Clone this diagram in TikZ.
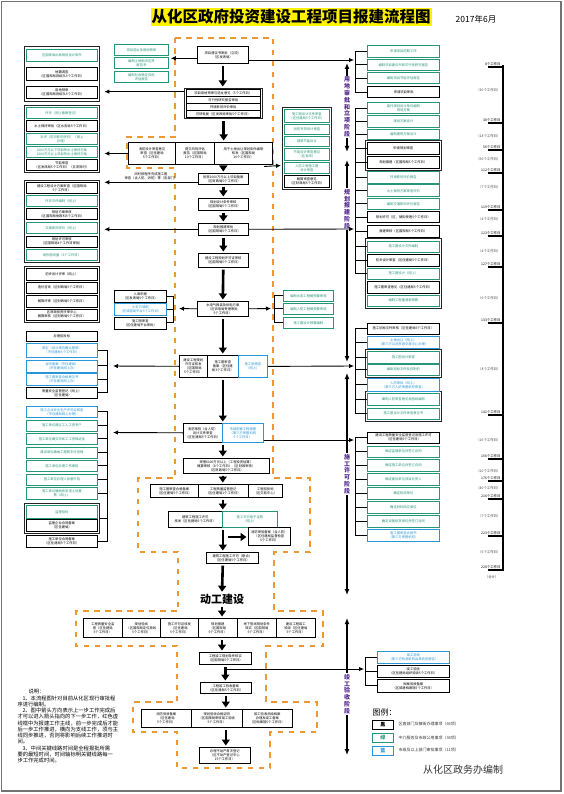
\documentclass[tikz,border=0pt]{standalone}
\usepackage{fontspec}
\setmainfont{Noto Sans CJK SC}
\usepackage{tikz}
\usetikzlibrary{arrows.meta}
\definecolor{grn}{RGB}{38,150,120}
\definecolor{blu}{RGB}{40,150,215}
\definecolor{orng}{RGB}{238,152,48}
\definecolor{purp}{RGB}{80,40,140}
\newcommand\tx{\fontsize{3.3}{4}\selectfont}

\begin{document}
\begin{tikzpicture}[x=1pt,y=-1pt,
  every node/.style={font=\tx,inner sep=0.3pt,align=center},
  kb/.style={draw=black,line width=0.6pt,fill=white,anchor=north west},
  gb/.style={draw=grn,text=grn,line width=0.8pt,fill=white,anchor=north west},
  bb/.style={draw=blu,text=blu,line width=0.8pt,fill=white,anchor=north west},
  wh/.style 2 args={minimum width=#1,minimum height=#2},
  frm/.style={draw=black!85,line width=1.3pt,anchor=north west,inner sep=0pt},
  big/.style={line width=2.6pt,-{Triangle[width=8pt,length=6pt]},shorten <=2pt,shorten >=1.5pt},
  sa/.style={line width=0.9pt,-{Latex[length=5pt,width=4.5pt]}},
  brk/.style={line width=0.9pt},
  odash/.style={draw=orng,line width=2.4pt,dash pattern=on 5.5pt off 5.5pt},
  stg/.style={line width=1.3pt,-{Latex[length=6pt,width=5pt]}},
  stl/.style={text=purp,font=\fontsize{6}{6.8}\selectfont\bfseries,inner sep=1pt},
  tk/.style={line width=1.8pt},
  dl/.style={anchor=south east,font=\fontsize{3.4}{4}\selectfont},
  il/.style={anchor=east,font=\fontsize{3.4}{4}\selectfont,text=black!75}]
\useasboundingbox (0,0) rectangle (563,794);
\draw[black!55,line width=1.6pt] (1.5,1.5) rectangle (561,791);

% title
\node[fill=yellow,font=\fontsize{15.5}{17}\selectfont\bfseries,inner sep=1pt] (ttl) at (291,17) {从化区政府投资建设工程项目报建流程图};
\node[font=\fontsize{8.5}{10}\selectfont] (dat) at (476,19) {2017年6月};

% main line frame
\draw[odash] (175,38) -- (273,38) -- (273,478) -- (310,478) -- (310,552) -- (274,552) -- (274,611) -- (323,611) -- (323,646) -- (266,646) -- (266,702) -- (317,702) -- (317,732) -- (270,732) -- (270,768) -- (177,768) -- (177,732) -- (133,732) -- (133,702) -- (177,702) -- (177,646) -- (76,646) -- (76,611) -- (178,611) -- (178,552) -- (138,552) -- (138,478) -- (175,478) -- (175,168) -- (127,168) -- (127,137) -- (175,137) -- cycle;

% left groups
\node[frm,wh={75}{55}] (f1) at (24,46) {};
\node[gb,wh={71}{12}] (l1a) at (26,49) {区国规局出具规划设计条件};
\node[kb,wh={71}{13}] (l1b) at (26,67) {地籍调查\\（区国规局测绘队5个工作日）};
\node[kb,wh={71}{12}] (l1c) at (26,86) {用地预审\\（区国规局测绘队5个工作日）};

\node[frm,wh={75}{67}] (f2) at (24,105) {};
\node[gb,wh={71}{11}] (l2a) at (26,107) {环评（网上备案登记）};
\node[kb,wh={71}{11}] (l2b) at (26,120) {水土保持审批（区水务局5个工作日）};
\node[gb,wh={71}{11}] (l2c) at (26,133) {洪评（防洪影响评价）（网上\\办理）};
\node[gb,wh={71}{11}] (l2d) at (26,146) {2000万元以下项目的水土保持方案\\2000万元以上项目的水土保持方案};
\node[kb,wh={71}{11}] (l2e) at (26,159) {节能审查\\（区发改局5个工作日）（五项同时）};

\node[frm,wh={75}{82}] (f3) at (24,180) {};
\node[kb,wh={71}{11}] (l3a) at (26,182) {建设工程设计方案审查（区国规局\\5个工作日）};
\node[gb,wh={71}{11}] (l3b) at (26,195) {环评文件编制（网上）};
\node[kb,wh={71}{11}] (l3c) at (26,208.5) {规划方案审核\\（区国规局地政科5个工作日）};
\node[gb,wh={71}{11}] (l3d) at (26,222) {交通影响评价（网上）};
\node[kb,wh={71}{11}] (l3e) at (26,235.5) {规划许可审核\\（区国规局4个工作日审批）};
\node[gb,wh={71}{11}] (l3f) at (26,249) {地形图测量（3个工作日）};

\node[frm,wh={75}{56}] (f4) at (24,266) {};
\node[kb,wh={71}{11.5}] (l4a) at (26,268) {初步设计评审（网上）};
\node[kb,wh={71}{11.5}] (l4b) at (26,281.5) {造价咨询（区财政局5个工作日）};
\node[kb,wh={71}{11.5}] (l4c) at (26,295) {概算评审（区财政局5个工作日）};
\node[kb,wh={71}{11.5}] (l4d) at (26,308.5) {区财政投资评审中心\\概算审核（区财政局5个工作日）};

\node[kb,wh={71}{10}] (l5a) at (26,331) {办理招投标};
\node[bb,wh={71}{14}] (l5b) at (26,343) {审定（设计单位确认图审）\\（市住建局5个工作日）};
\node[bb,wh={71}{12}] (l5c) at (26,359.5) {合同备案（市住建局）\\（市住建局网上办）};
\node[bb,wh={71}{12}] (l5d) at (26,373) {施工图审查合格意见书\\（市住建局网上办）};
\node[kb,wh={71}{11}] (l5e) at (26,387) {质量安全监督登记（网上）\\（区住建局）};

\node[bb,wh={71}{11}] (l6a) at (26,406) {施工企业安全生产许可证核查\\（市住建局网上办理）};
\node[gb,wh={71}{10.5}] (l6b) at (26,420) {施工单位建立工人工资专户};
\node[gb,wh={71}{11}] (l6c) at (26,433) {施工单位缴交农民工工资保证金};
\node[gb,wh={71}{11}] (l6d) at (26,446.5) {建设单位缴纳工程款支付担保};
\node[gb,wh={71}{11}] (l6e) at (26,460) {施工单位办理工伤保险};
\node[gb,wh={71}{11}] (l6f) at (26,473.5) {施工单位办理人身意外险};
\node[gb,wh={71}{11.5}] (l6g) at (26,487) {施工单位缴纳余泥渣土处置\\费（网上）};
\node[frm,wh={75}{30}] (f6) at (24,503) {};
\node[gb,wh={71}{13}] (l6h) at (26,505) {监理招标};
\node[kb,wh={71}{12}] (l6i) at (26,519) {监理企业合同备案\\（区住建局）};
\node[kb,wh={71}{11.5}] (l6j) at (26,535) {施工单位合同备案\\（区住建局5个工作日）};

% second column
\node[gb,wh={54}{11}] (g1a) at (114,44) {项目选址及用地预审};
\node[gb,wh={54}{11}] (g1b) at (114,57) {编制土地勘测定界\\报告书};
\node[gb,wh={54}{11}] (g1c) at (114,71) {编制社会稳定风险\\评估报告};

\node[kb,wh={52}{12}] (lb1) at (114,290) {入库申报\\（区发改局5个工作日）};
\node[bb,wh={52}{12}] (lb2) at (114,303) {土石方调配\\（区城管局平台5个工作日）};
\node[kb,wh={52}{12}] (lb3) at (114,316.5) {施工图审查\\（区住建局平台审批）};

% main column
\node[kb,wh={51}{17}] (c1) at (197,46) {项目建议书审批（立项）\\（区发改局）};
\node[frm,wh={78}{30}] (c2) at (184,88) {};
\node[kb,wh={74}{6.5}] (c2a) at (186,89.5) {项目用地预审与选址意见（5个工作日）};
\node[kb,wh={74}{6.5}] (c2b) at (186,96.5) {可行性研究报告审批};
\node[kb,wh={74}{6.5}] (c2c) at (186,103.5) {环境影响评价审批};
\node[kb,wh={74}{6.5}] (c2d) at (186,110.5) {可研批复（区发改局审批5个工作日）};
\node[kb,line width=1pt,wh={47}{22}] (c3a) at (128,142) {消防设计审查意见\\审查（区住建局\\5个工作日）};
\node[kb,line width=1pt,wh={39}{22}] (c3b) at (175,142) {提交风险评估\\报告（区国规局\\10个工作日）};
\node[kb,line width=1pt,wh={58}{22}] (c3c) at (214,142) {用于土地出让规划条件编制\\核发（区国规局\\10个工作日）};
\node (t1) at (151,176) {同时按程序完成施工图\\审查（含人防、消防）等（各部门）};
\node[kb,wh={50}{11}] (c4) at (198,173) {投资2000万元以上项目备案\\（区财政局5个工作日）};
\node[kb,wh={50}{12}] (c5) at (198,198) {规划设计条件审核\\（区国规局5个工作日）};
\node[kb,wh={50}{12}] (c6) at (198,223) {规划报建审批\\（区国规局5个工作日）};
\node[kb,wh={50}{14}] (c7) at (198,253) {建设工程规划许可证审核\\（区国规局5个工作日）};
\node[kb,wh={51}{15}] (c8) at (197,301) {水电气报装及供电方案\\（区供电局受理审批\\5个工作日）};
\node[kb,wh={28}{22}] (c9a) at (179,355) {建设工程规划\\许可证核发\\（区国规局\\5个工作日）};
\node[kb,wh={31}{22}] (c9b) at (207,355) {施工图审查\\备案（区住建\\局3个工作日）};
\node[bb,wh={29}{22}] (c9c) at (238,355) {施工图审查\\（网上）};
\node[kb,wh={39}{19}] (c10a) at (183,423) {消防审验（含人防）\\设计文件审查\\（区住建局5个工作日）};
\node[bb,wh={41}{19}] (c10b) at (222,423) {市政配套工程报建\\（第三方审图机构\\5个工作日）};
\node[kb,wh={86}{15}] (c11) at (183,458) {受理6000万元以上（工程投资估算）\\概算审核（8个工作日）（区财政审核）\\（区财政局5个工作日）};
\node[kb,wh={48}{13}] (c12a) at (150,484) {施工图审查合格备案\\（区住建局5个工作日）};
\node[kb,wh={50}{13}] (c12b) at (198,484) {工程质量监督登记\\（区住建局1个工作日）};
\node[kb,wh={34}{13}] (c12c) at (248,484) {工程招投标\\（区交易中心）};
\node[kb,wh={54}{16}] (c13a) at (168,511) {建筑工程施工许可\\核发（区住建局5个工作日）};
\node[gb,wh={55}{16}] (c13b) at (222,511) {施工许可电子证照\\（网上）};
\node[kb,wh={42}{18}] (c14) at (248,527) {消防审验备案（含人防）\\（区住建局监督检查\\5个工作日）};
\node[kb,wh={52}{11}] (c15) at (206,552) {建筑工程施工许可（联合）\\（区住建局5个工作日）};
\node[font=\fontsize{11}{13}\selectfont\bfseries] (dgjs) at (222,599) {动工建设};
\node[kb,wh={39}{19}] (c16a) at (83,618) {工程质量安全监\\督（区住建局\\5个工作日）};
\node[kb,wh={38}{19}] (c16b) at (122,618) {规划验线\\（区国规局定位放线\\5个工作日）};
\node[kb,wh={38}{19}] (c16c) at (160,618) {施工许可证核发\\（区住建局\\5个工作日）};
\node[kb,wh={39}{19}] (c16d) at (198,618) {规划报建\\（区国规局\\5个工作日）};
\node[kb,wh={39}{19}] (c16e) at (237,618) {地下管线规划条件\\核实（区国规局\\5个工作日）};
\node[kb,wh={39}{19}] (c16f) at (276,618) {建设工程竣工\\验收（区住建局\\5个工作日）};
\node[kb,wh={52}{12}] (c17) at (199,652) {工程竣工规划条件核实\\（区国规局5个工作日）};
\node[kb,wh={51}{11}] (c18) at (200,682) {工程竣工验收备案\\（区住建局5个工作日）};
\node[kb,wh={50}{18}] (c19a) at (141,709) {消防验收备案\\（区住建局\\5个工作日）};
\node[kb,wh={51}{18}] (c19b) at (191,709) {规划验收合格证明\\（区国规局审核竣工验收\\5个工作日）};
\node[kb,wh={50}{18}] (c19c) at (242,709) {竣工验收测绘档案\\办理及竣工备案\\（区档案馆5个工作日）};
\node[kb,wh={51}{16}] (c20) at (199,747) {办理不动产首次登记\\（区不动产登记中心\\15个工作日）};

% green group beside main line
\node[frm,wh={49}{82}] (fg) at (282,107) {};
\node[gb,wh={45}{13}] (g2a) at (284,109) {施工图设计文件审查\\（区住建局5个工作日）};
\node[gb,wh={45}{10}] (g2b) at (284,124) {消防专项设计审查};
\node[gb,wh={45}{10.5}] (g2c) at (284,136) {建筑节能设计};
\node[gb,wh={45}{12}] (g2d) at (284,148) {节能设计审查意见\\（区发改）};
\node[gb,wh={45}{11}] (g2e) at (284,162) {人防工程施工图\\设计审查};
\node[kb,wh={45}{12}] (g2f) at (284,175) {概算审查意见\\（区财政局5个工作日）};
\node[gb,wh={50}{11}] (gb1) at (283,290) {编制水务工程概预算审核};
\node[gb,wh={50}{11}] (gb2) at (283,303) {编制人防工程概预算审核};
\node[gb,wh={50}{11}] (gb3) at (283,317) {施工图设计预算编制};

% right column
\node[frm,wh={76}{30}] (fr1) at (365,140) {};
\node[frm,wh={76}{70}] (fr2) at (365,238) {};
\node[frm,wh={76}{28}] (fr3) at (365,349) {};
\node[frm,wh={76}{30}] (fr4) at (365,391) {};
\node[gb,wh={72}{12}] (r1a) at (367,45) {申请项目前期工作};
\node[gb,wh={72}{11}] (r1b) at (367,59) {编制项目建议书和可行性研究报告};
\node[gb,wh={72}{11}] (r1c) at (367,72.5) {编制项目节能评估报告};
\node[kb,line width=1.3pt,wh={72}{11}] (r1d) at (367,86) {申请项目审批};
\node[gb,wh={72}{11.5}] (r2a) at (367,102) {委托规划设计单位编制\\规划方案};
\node[gb,wh={72}{11.5}] (r2b) at (367,115.5) {规划方案设计};
\node[gb,wh={72}{10.5}] (r2c) at (367,129) {编制建筑方案设计};
\node[kb,wh={72}{12}] (r2d) at (367,142) {申请规划审查};
\node[kb,wh={72}{12}] (r2e) at (367,156) {规划报建（区国规局5个工作日）};
\node[gb,wh={72}{12}] (r2f) at (367,171) {环境影响评价报告};
\node[gb,wh={72}{12}] (r2g) at (367,184.5) {水土保持方案审查评价};
\node[gb,wh={72}{11}] (r2h) at (367,198) {编制交通影响评价报告};
\node[kb,wh={72}{11}] (r2i) at (367,211.5) {规划许可（区、镇街受理5个工作日）};
\node[kb,wh={72}{11.5}] (r2j) at (367,225.5) {报建审核（区国规局5个工作日）};
\node[gb,wh={72}{11.5}] (r2k) at (367,240.5) {施工图设计文件编制};
\node[kb,wh={72}{11.5}] (r2l) at (367,254) {初步设计审查（区住建局5个工作日）};
\node[gb,wh={72}{11}] (r2m) at (367,267.5) {施工图设计（网上）};
\node[kb,wh={72}{11.5}] (r2n) at (367,281) {施工图审查意见（区住建局5个工作日）};
\node[gb,wh={72}{11.5}] (r2o) at (367,294.5) {编制工程量清单预算};
\node[kb,wh={72}{11}] (r3a) at (367,322.5) {施工招标文件审核（区住建局5个工作日）};
\node[bb,wh={72}{12.5}] (r3b) at (367,335.5) {土地出让（网上）\\（第三方公共资源交易中心办理）};
\node[gb,wh={72}{11.5}] (r3c) at (367,351) {施工图设计审查};
\node[gb,wh={72}{11.5}] (r3d) at (367,363.5) {编制招标文件及控制价};
\node[bb,wh={72}{13}] (r3e) at (367,378) {人防审批（网上）\\（第三方人防审图机构审查）};
\node[gb,wh={72}{12}] (r3f) at (367,393) {编制人防审查意见及图纸编制};
\node[gb,wh={72}{11.5}] (r3g) at (367,407.5) {施工图设计文件审查意见书};
\node[kb,line width=1pt,wh={72}{11}] (r4a) at (367,431.5) {建设工程质量安全监督登记及施工许可\\（区住建局5个工作日）};
\node[gb,wh={72}{11.5}] (r4b) at (367,445.5) {确定监理单位并签订合同};
\node[gb,wh={72}{12}] (r4c) at (367,459) {确定施工单位并签订合同};
\node[gb,wh={72}{12}] (r4d) at (367,473) {确定建设单位项目负责人};
\node[gb,wh={72}{11.5}] (r4e) at (367,487) {确定检测单位};
\node[gb,wh={72}{12}] (r4f) at (367,501) {确定材料供应单位};
\node[gb,wh={72}{12}] (r4g) at (367,515) {确定设备供货单位并签订合同};
\node[bb,wh={72}{12}] (r4h) at (367,529) {施工图审查合格书\\（第三方审图机构）};
\node[bb,wh={72}{12}] (r5a) at (377,651) {竣工验收\\（第三方检测机构出具检测报告）};
\node[kb,wh={72}{12.5}] (r5b) at (377,664.5) {竣工验收\\（区住建局组织验收5个工作日）};
\node[kb,wh={72}{13}] (r5c) at (377,679) {档案验收备案\\（区城建档案馆5个工作日）};

% main line arrows
\draw[big] (c1.south) -- (c1.south |- c2.north);
\draw[big] (c2.south) -- (c2.south |- c3c.north);
\draw[big] (c3c.south -| c4.north) -- (c4.north);
\draw[big] (c4.south) -- (c5.north);
\draw[big] (c5.south) -- (c6.north);
\draw[big] (c6.south) -- (c7.north);
\draw[big] (c7.south) -- (c8.north);
\draw[big] (c8.south) -- (c8.south |- c9b.north);
\draw[big] (c8.south |- c9b.south) -- (c8.south |- c10a.north);
\draw[big] (c8.south |- c10a.south) -- (c8.south |- c11.north);
\draw[big] (c8.south |- c11.south) -- (c8.south |- c12b.north);
\draw[big] (c8.south |- c12b.south) -- (c8.south |- c13a.north);
\draw[big] (c8.south |- c13a.south) -- (c8.south |- c15.north);
\draw[big] (c8.south |- c15.south) -- (dgjs.north);
\draw[big] (dgjs.south) -- (dgjs.south |- c16d.north);
\draw[big] (dgjs.south |- c16d.south) -- (dgjs.south |- c17.north);
\draw[big] (c17.south) -- (c17.south |- c18.north);
\draw[big] (c18.south) -- (c18.south |- c19b.north);
\draw[big] (c18.south |- c19b.south) -- (c18.south |- c20.north);
\coordinate (k1) at (228,537);
\draw[big,shorten <=0pt] (k1) -- (k1 -| c14.west);

% branch arrows
\draw[sa,shorten >=2pt] ([yshift=-3.5pt]c1.west) -- ([yshift=-3.5pt]c1.west -| g1a.east);
\draw[sa,shorten >=4pt] ([yshift=12pt]c2.west) -- ([yshift=12pt]c2.west -| f1.east);
\draw[sa,shorten >=4pt] (c3a.west) -- (c3a.west -| f2.east);
\draw[sa,shorten >=4pt] ([yshift=-3.5pt]c4.west) -- ([yshift=-3.5pt]c4.west -| f3.east);
\draw[sa,shorten >=4pt] (c6.west) -- (c6.west -| f3.east);
\coordinate (lbk) at (173,308.5);
\draw[sa,shorten >=6pt] (c8.west) -- (lbk);
\coordinate (lk5) at (108,366);
\draw[sa,shorten >=5pt] (c9a.west) -- (lk5);
\coordinate (lk6) at (108,432.5);
\draw[sa,shorten >=5pt] (c10a.west) -- (lk6);

\coordinate (brA) at (354,60);
\draw[sa] (c1.east |- brA) -- (brA);
\coordinate (ga) at (281,165.5);
\draw[sa] ([xshift=-9pt,yshift=-1.5pt]c3c.south east) -- (ga);
\coordinate (brB) at (354,229);
\draw[sa] (c6.east) -- (brB);
\coordinate (gbk) at (274,308.5);
\draw[sa,shorten >=3pt] (c8.east) -- (gbk);
\coordinate (brC) at (354,366);
\draw[sa] (c9c.east) -- (brC);
\coordinate (brD) at (354,440);
\draw[sa] (c10b.east |- brD) -- (brD);
\coordinate (k2) at (226,669);
\coordinate (brE) at (364,669);
\draw[sa] (k2) -- (brE);

% brackets
\draw[brk] (r1a.west) -- ++(-12,0) |- (r1d.west) (r1b.west) -- ++(-12,0) (r1c.west) -- ++(-12,0);
\draw[brk] (r2a.west) -- ++(-12,0) |- (r2m.west) (r2b.west) -- ++(-12,0) (r2c.west) -- ++(-12,0) (r2d.west) -- ++(-12,0) (r2e.west) -- ++(-12,0) (r2f.west) -- ++(-12,0) (r2g.west) -- ++(-12,0) (r2h.west) -- ++(-12,0) (r2i.west) -- ++(-12,0) (r2j.west) -- ++(-12,0) (r2k.west) -- ++(-12,0) (r2l.west) -- ++(-12,0);
\draw[brk] (r3a.west) -- ++(-12,0) |- (r3g.west) (r3b.west) -- ++(-12,0) (r3c.west) -- ++(-12,0) (r3d.west) -- ++(-12,0) (r3e.west) -- ++(-12,0) (r3f.west) -- ++(-12,0);
\draw[brk] (r4a.west) -- ++(-12,0) |- (r4h.west) (r4b.west) -- ++(-12,0) (r4c.west) -- ++(-12,0) (r4d.west) -- ++(-12,0) (r4e.west) -- ++(-12,0) (r4f.west) -- ++(-12,0) (r4g.west) -- ++(-12,0);
\draw[brk] (r5a.west) -- ++(-12,0) |- (r5c.west) (r5b.west) -- ++(-12,0);
\draw[brk] (l5b.east) -- ++(10,0) |- (l5e.east) (l5c.east) -- ++(10,0) (l5d.east) -- ++(10,0);
\draw[brk] (l6a.east) -- ++(10,0) |- (l6j.east) (l6b.east) -- ++(10,0) (l6c.east) -- ++(10,0) (l6d.east) -- ++(10,0) (l6e.east) -- ++(10,0) (l6f.east) -- ++(10,0) (l6g.east) -- ++(10,0) (f6.east) -- ++(8,0);
\draw[brk] (lb1.east) -- ++(7,0) |- (lb3.east) (lb2.east) -- ++(7,0);
\draw[brk] (gb1.west) -- ++(-9,0) |- (gb3.west) (gb2.west) -- ++(-9,0);

% stages
\node[stl] (st1) at (347,107) {用\\地\\审\\批\\和\\立\\项\\阶\\段};
\node[stl] (st2) at (347,209) {规\\划\\报\\建\\阶\\段};
\node[stl] (st3) at (347,474) {施\\工\\许\\可\\阶\\段};
\node[stl] (st4) at (347,694) {竣\\工\\验\\收\\阶\\段};
\coordinate (sa1) at (347,63);
\coordinate (sb1) at (347,152);
\coordinate (sa2) at (347,160);
\coordinate (sb2) at (347,362);
\coordinate (sa3) at (347,373);
\coordinate (sb3) at (347,595);
\coordinate (sa4) at (347,618);
\coordinate (sb4) at (347,755);
\draw[stg] (st1.north) -- (sa1);
\draw[stg] (st1.south) -- (sb1);
\draw[stg] (st2.north) -- (sa2);
\draw[stg] (st2.south) -- (sb2);
\draw[stg] (st3.north) -- (sa3);
\draw[stg] (st3.south) -- (sb3);
\draw[stg] (st4.north) -- (sa4);
\draw[stg] (st4.south) -- (sb4);

% time line
\draw[line width=1.3pt] (503,65) -- (503,571);
\draw[tk] (488,67) -- (503,67) (488,123) -- (503,123) (488,150) -- (503,150) (488,173) -- (503,173) (488,210) -- (503,210) (488,236) -- (503,236) (488,267) -- (503,267) (488,323) -- (503,323) (488,415) -- (503,415) (488,459) -- (503,459) (488,481) -- (503,481) (488,499) -- (503,499) (488,536) -- (503,536) (488,570) -- (503,570);
\node[dl] (d1) at (501,66) {8个工作日};
\node[dl] (d2) at (501,122) {38个工作日};
\node[dl] (d3) at (501,149) {56个工作日};
\node[dl] (d4) at (501,172) {112个工作日};
\node[dl] (d5) at (501,209) {119个工作日};
\node[dl] (d6) at (501,235) {123个工作日};
\node[dl] (d7) at (501,266) {127个工作日};
\node[dl] (d8) at (501,322) {133个工作日};
\node[dl] (d9) at (501,414) {141个工作日};
\node[dl] (d10) at (501,458) {156个工作日};
\node[dl] (d11) at (501,480) {176个工作日};
\node[dl] (d12) at (501,498) {216个工作日};
\node[dl] (d13) at (501,535) {223个工作日};
\node[dl] (d14) at (501,569) {228个工作日};
\node[il] (i1) at (501,90) {（30个工作日）};
\node[il] (i2) at (501,136) {（18个工作日）};
\node[il] (i3) at (501,159) {（56个工作日）};
\node[il] (i4) at (501,187) {（7个工作日）};
\node[il] (i5) at (501,219) {（4个工作日）};
\node[il] (i6) at (501,251) {（4个工作日）};
\node[il] (i7) at (501,298) {（6个工作日）};
\node[il] (i8) at (501,369) {（8个工作日）};
\node[il] (i9) at (501,440) {（15个工作日）};
\node[il] (i10) at (501,471) {（20个工作日）};
\node[il] (i11) at (501,488) {（40个工作日）};
\node[il] (i12) at (501,516) {（7个工作日）};
\node[il] (i13) at (501,552) {（5个工作日）};
\node[il] (i14) at (499,577) {（合计）};

% notes
\node[anchor=north west,align=left,font=\fontsize{5.3}{6.25}\selectfont] (sm) at (17,689) {\hspace{11pt}说明：\\
\hspace{5pt}1、本流程图针对目前从化区现行审批程\\
序进行编制。\\
\hspace{5pt}2、图中箭头方向表示上一步工作完成后\\
才可以进入箭头指向的下一步工作，红色虚\\
线框中为报建工作主线，前一步完成后才能\\
后一步工作推进，横向为支线工作，须与主\\
线同步推进，否则将影响后续工作推进时\\
间。\\
\hspace{5pt}3、中间关键线路时间是全程报批所需\\
要的最短时间，时间轴标明关键线路每一\\
步工作完成时间。};

% legend
\node[anchor=west,font=\fontsize{8}{9}\selectfont] (lgt) at (372,712) {图例：};
\node[kb,line width=0.9pt,wh={21}{8.5},font=\fontsize{5}{6}\selectfont\bfseries] (lg1) at (372,720) {黑};
\node[gb,wh={21}{9},font=\fontsize{5}{6}\selectfont\bfseries] (lg2) at (372,733) {绿};
\node[bb,wh={21}{9},font=\fontsize{5}{6}\selectfont\bfseries] (lg3) at (372,745.5) {蓝};
\node[anchor=west,font=\fontsize{4}{5}\selectfont,text=black!80] (lx1) at (398,724) {区直部门及镇街办理事项（66项）};
\node[anchor=west,font=\fontsize{4}{5}\selectfont,text=black!80] (lx2) at (398,737.5) {中介服务及市政公用事项（34项）};
\node[anchor=west,font=\fontsize{4}{5}\selectfont,text=black!80] (lx3) at (398,750) {市级及以上部门审批事项（11项）};
\node[font=\fontsize{10}{12}\selectfont,text=black!80] (bz) at (463,770) {从化区政务办编制};
\end{tikzpicture}
\end{document}
